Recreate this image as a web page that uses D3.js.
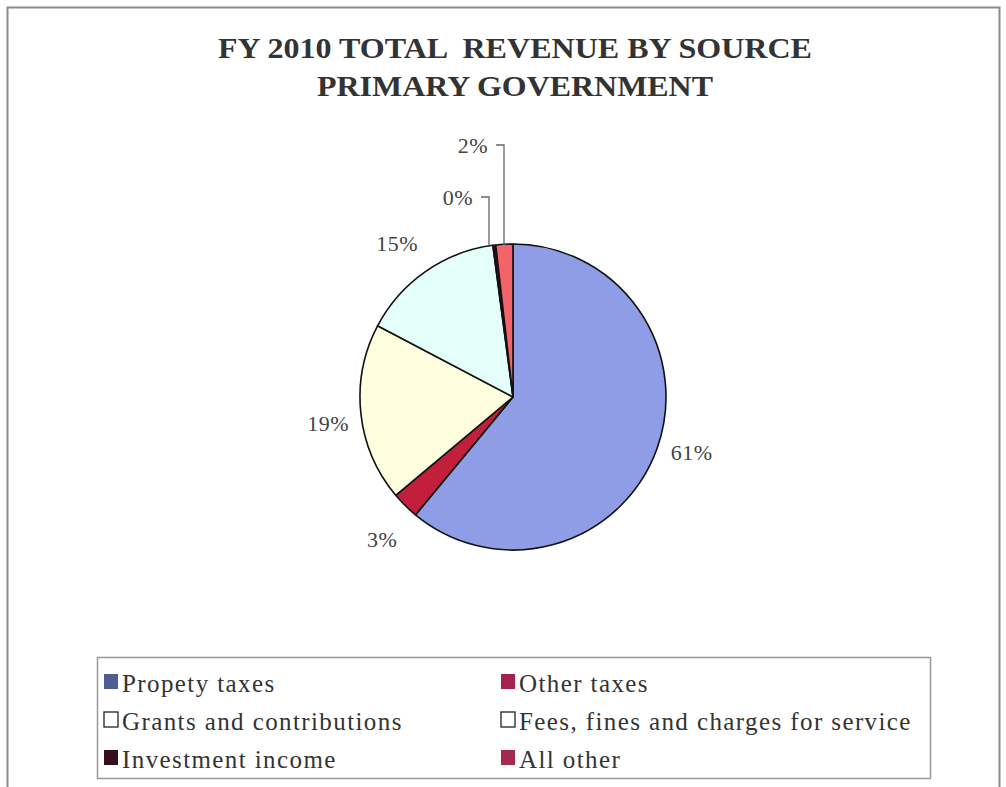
<!DOCTYPE html>
<html>
<head>
<meta charset="utf-8">
<script src="https://cdn.jsdelivr.net/npm/d3@7"></script>
<style>
  body { margin: 0; background: #fff; }
  svg { display: block; }
</style>
</head>
<body>
<svg id="chart" width="1006" height="787"></svg>
<script>
// data (percent of total revenue)
const categories = ["Propety taxes", "Other taxes", "Grants and contributions",
                    "Fees, fines and charges for service", "Investment income", "All other"];
const shares = [61.0, 2.9, 18.8, 15.2, 0.3, 1.8];
const pieColors = ["#8f9de6", "#c21f3c", "#ffffe0", "#e4fffa", "#3a0a1a", "#f2636a"];
const legendColors = ["#4f5d90", "#a3224f", "#ffffff", "#ffffff", "#33101a", "#a3294f"];
const titleLines = ["FY 2010 TOTAL  REVENUE BY SOURCE", "PRIMARY GOVERNMENT"];

const serif = '"Liberation Serif", "DejaVu Serif", serif';
const cx = 513, cy = 397, radius = 153;

const svg = d3.select("#chart");

// outer chart frame (bottom runs off the page)
svg.append("rect")
   .attr("x", 7.5).attr("y", 7.5)
   .attr("width", 992).attr("height", 820)
   .attr("fill", "none")
   .attr("stroke", "#8a8a8a")
   .attr("stroke-width", 2);

// title
svg.selectAll("text.title")
   .data(titleLines)
   .enter().append("text")
   .attr("class", "title")
   .attr("x", 515)
   .attr("y", (d, i) => 58 + i * 38)
   .attr("text-anchor", "middle")
   .attr("textLength", (d, i) => i === 0 ? 594 : 396)
   .attr("lengthAdjust", "spacingAndGlyphs")
   .style("font-family", serif)
   .style("white-space", "pre")
   .style("font-size", "29px")
   .style("font-weight", "bold")
   .attr("fill", "#333")
   .text(d => d);

// pie
const data = categories.map((c, i) => ({ name: c, value: shares[i], color: pieColors[i] }));
const pie = d3.pie().sort(null).value(d => d.value);
const arc = d3.arc().innerRadius(0).outerRadius(radius);
const arcs = pie(data);

const g = svg.append("g").attr("transform", `translate(${cx},${cy})`);

g.selectAll("path")
 .data(arcs)
 .enter().append("path")
 .attr("d", arc)
 .attr("fill", d => d.data.color)
 .attr("stroke", "#111")
 .attr("stroke-width", 1.6)
 .attr("stroke-linejoin", "round");

// labels: most sit outside their slice, the two tiny ones use leader lines
const fmt = d => Math.round(d.data.value) + "%";
const labelArc = d3.arc().innerRadius(radius + 37).outerRadius(radius + 37);
const leaders = {
  "Investment income": { text: [-55, -200], bend: [-24, -200] },
  "All other": { text: [-40, -252], bend: [-9, -252] }
};
const nudges = {
  "Propety taxes": [0, -9],
  "Other taxes": [3, 8],
  "Grants and contributions": [4, 6],
  "Fees, fines and charges for service": [-7, 2]
};

arcs.forEach(d => {
  const name = d.data.name;
  let x, y;
  if (leaders[name]) {
    const L = leaders[name];
    g.append("polyline")
     .attr("points", [[L.text[0] + 23, L.bend[1]], [L.bend[0], L.bend[1]], [L.bend[0], -radius + 1]].map(p => p.join(",")).join(" "))
     .attr("fill", "none")
     .attr("stroke", "#666")
     .attr("stroke-width", 1.3);
    [x, y] = L.text;
  } else {
    const c = labelArc.centroid(d);
    const n = nudges[name] || [0, 0];
    x = c[0] + n[0];
    y = c[1] + n[1];
  }
  g.append("text")
   .attr("x", x)
   .attr("y", y)
   .attr("text-anchor", "middle")
   .attr("dy", "0.35em")
   .style("font-family", serif)
   .style("font-size", "22px")
   .style("letter-spacing", "0.5px")
   .attr("fill", "#444")
   .text(fmt(d));
});

// legend
const legend = svg.append("g");
legend.append("rect")
      .attr("x", 97.5).attr("y", 657.5)
      .attr("width", 833).attr("height", 121)
      .attr("fill", "#fff")
      .attr("stroke", "#999")
      .attr("stroke-width", 1.5);

const col = d3.scaleOrdinal().domain([0, 1]).range([104, 501]);
const row = d3.scaleBand().domain([0, 1, 2]).range([664, 778]);

const items = legend.selectAll("g.item")
  .data(categories)
  .enter().append("g")
  .attr("class", "item")
  .attr("transform", (d, i) => `translate(${col(i % 2)},${row(Math.floor(i / 2)) + row.bandwidth() / 2})`);

items.append("rect")
     .attr("x", 0).attr("y", -9)
     .attr("width", 14).attr("height", 15)
     .attr("fill", (d, i) => legendColors[i])
     .attr("stroke", (d, i) => i === 2 || i === 3 ? "#222" : "none")
     .attr("stroke-width", 1.3);

items.append("text")
     .attr("x", 18)
     .attr("y", 0)
     .attr("dy", "0.35em")
     .style("font-family", serif)
     .style("font-size", "25px")
     .style("letter-spacing", "1.4px")
     .attr("fill", "#333")
     .text(d => d);
</script>
</body>
</html>
